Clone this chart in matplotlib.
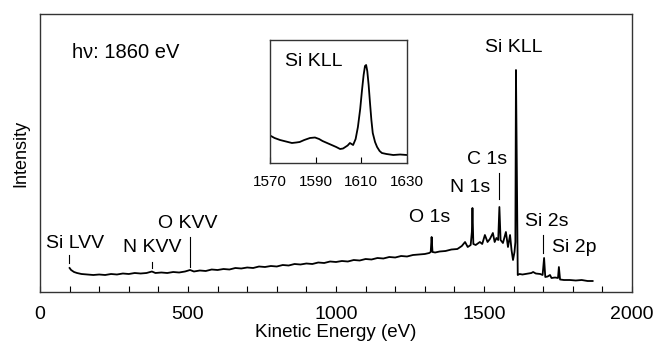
import numpy as np
import matplotlib
matplotlib.use("Agg")
import matplotlib.pyplot as plt

plt.rcParams['font.family'] = ['Liberation Sans', 'DejaVu Sans']

# survey spectrum (kinetic energy in eV, intensity in arb. units)
energy = [100, 105, 115, 125, 140, 160, 180, 200, 220, 240, 260, 280, 300, 320, 340, 360,
          378, 390, 410, 430, 450, 470, 490, 507, 520, 540, 560, 580, 600, 620, 640, 660,
          680, 700, 720, 740, 760, 780, 800, 820, 840, 860, 880, 900, 920, 940, 960, 980,
          1000, 1020, 1040, 1060, 1080, 1100, 1120, 1140, 1160, 1180, 1200, 1220, 1240, 1260,
          1280, 1300, 1315, 1320, 1323, 1326, 1335, 1350, 1370, 1390, 1410, 1425, 1436, 1445,
          1455, 1459, 1461, 1464, 1472, 1486, 1494, 1503, 1512, 1520, 1530, 1536, 1542, 1548,
          1552, 1556, 1564, 1574, 1581, 1588, 1593, 1598, 1603, 1606, 1608, 1611, 1614, 1620,
          1630, 1640, 1650, 1660, 1666, 1675, 1690, 1698, 1703, 1707, 1715, 1723, 1728, 1740,
          1750, 1753, 1757, 1770, 1790, 1810, 1830, 1850, 1867]
intensity = [24, 22, 20, 19, 18, 17.5, 17, 17.5, 17, 18, 17.5, 18.5, 18, 19, 18.5, 19,
             20.5, 19, 19.5, 19, 20, 19.5, 20.5, 22, 20.5, 21.5, 21, 22.5, 22, 23, 22.5, 24,
             23.5, 24.5, 24, 25.5, 25, 26, 25.5, 27, 26.5, 28, 27.5, 28.5, 28, 29.5, 29, 30.5,
             30, 31, 30.5, 32, 31.5, 33, 32.5, 34, 33.5, 35, 34.5, 36, 35.5, 37,
             37.5, 38, 39, 40, 55, 40, 39.5, 40.5, 41, 42.5, 43, 46, 50, 45,
             47, 60, 84, 48, 47, 50, 48, 57, 50, 53, 59, 50, 54, 52,
             85, 52, 49, 60, 45, 57, 42, 32, 40, 50, 222, 120, 17, 18,
             17.5, 18, 18.5, 19, 20, 18.5, 18, 17, 34, 15, 15.5, 17, 14, 14.5,
             14, 25, 12.5, 12, 12, 11.5, 12, 11, 11]

# Si KLL detail (inset)
inset_energy = [1570.4, 1572, 1574.4, 1577, 1579.6, 1581.5, 1583, 1585, 1587.5, 1589.7,
                1591.5, 1593, 1595, 1597, 1599, 1600.7, 1602, 1603, 1604, 1605,
                1606.4, 1607.5, 1608.5, 1609.5, 1610.3, 1611, 1611.6, 1612.1, 1612.6, 1613.2,
                1613.8, 1614.4, 1615, 1616, 1616.9, 1618, 1619, 1621, 1624, 1627, 1630]
inset_intensity = [27, 25, 23, 21.5, 20, 20.5, 21, 23, 25, 25.5,
                   24, 22, 20, 18, 16, 14, 14.5, 16, 17.5, 20,
                   18, 24, 36, 54, 73, 88, 97, 98, 92, 78,
                   60, 43, 30, 21, 16, 12, 10, 9, 8, 8.5, 8]

# peak labels: text, text x, text y, marker x, marker y0, marker y1
labels = [("Si LVV", 20, 49, 98, 29, 37),
          ("N KVV", 280, 44, 378, 24, 30),
          ("O KVV", 399, 69, 507, 25, 55),
          ("O 1s", 1247, 74, None, None, None),
          ("N 1s", 1385, 104, None, None, None),
          ("C 1s", 1443, 132, 1551, 93, 119),
          ("Si KLL", 1503, 244, None, None, None),
          ("Si 2s", 1639, 70, 1699, 39, 57),
          ("Si 2p", 1730, 44, None, None, None)]

fig = plt.figure(figsize=(6.54, 3.49), dpi=100)
ax = fig.add_axes([40/654, 57/349, 592/654, 278/349])
ax.plot(energy, intensity, color='black', lw=1.3)
ax.set_xlim(0, 2000)
ax.set_ylim(0, 278)
ax.set_xticks([0, 500, 1000, 1500, 2000])
ax.set_xticks(np.arange(100, 2000, 100), minor=True)
ax.tick_params(axis='x', which='both', direction='in', length=4, width=0.8,
               labelsize=14, pad=10)
ax.set_yticks([])
ax.set_xlabel("Kinetic Energy (eV)", fontsize=13.5, labelpad=1)
ax.set_ylabel("Intensity", fontsize=13, labelpad=8)
for s in ax.spines.values():
    s.set_color('#333333')
    s.set_linewidth(1.0)

ax.text(108, 239, "h\u03bd: 1860 eV", fontsize=14.5, va='center')
for txt, tx, ty, mx, my0, my1 in labels:
    ax.text(tx, ty, txt, fontsize=14, va='center')
    if mx is not None:
        ax.plot([mx, mx], [my0, my1], color='black', lw=0.8)

ins = fig.add_axes([270/654, 186/349, 137/654, 123/349])
ins.plot(inset_energy, inset_intensity, color='black', lw=1.3)
ins.set_xlim(1570, 1630)
ins.set_ylim(0, 123)
ins.set_xticks([1570, 1590, 1610, 1630])
ins.tick_params(axis='x', direction='in', length=4, width=0.8, labelsize=11, pad=9)
ins.set_yticks([])
for s in ins.spines.values():
    s.set_color('#333333')
    s.set_linewidth(1.0)
ins.text(1576.6, 101, "Si KLL", fontsize=14, va='center')

fig.savefig("out.png", dpi=100)
